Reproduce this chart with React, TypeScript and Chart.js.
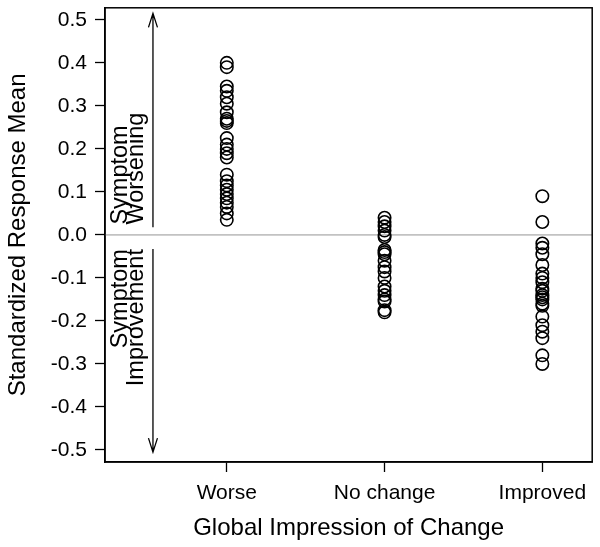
import React, { useEffect, useRef } from "react";
import { Chart, registerables } from "chart.js";

Chart.register(...registerables);

const categories = ["Worse", "No change", "Improved"];
const worseValues = [0.40, 0.39, 0.345, 0.335, 0.32, 0.305, 0.285, 0.27, 0.265, 0.26, 0.225, 0.21, 0.2, 0.19, 0.18, 0.14, 0.125, 0.115, 0.105, 0.095, 0.085, 0.075, 0.065, 0.05, 0.035];
const noChangeValues = [0.04, 0.03, 0.02, 0.01, 0.0, -0.005, -0.035, -0.04, -0.045, -0.06, -0.075, -0.085, -0.1, -0.12, -0.13, -0.14, -0.15, -0.155, -0.175, -0.18];
const improvedValues = [0.09, 0.03, -0.02, -0.03, -0.045, -0.07, -0.09, -0.1, -0.11, -0.125, -0.13, -0.14, -0.145, -0.15, -0.16, -0.165, -0.19, -0.21, -0.225, -0.24, -0.28, -0.3];
const yTicks = [-0.5, -0.4, -0.3, -0.2, -0.1, 0, 0.1, 0.2, 0.3, 0.4, 0.5];
const xTitle = "Global Impression of Change";
const yTitle = "Standardized Response Mean";

// annotation (data units)
const arrowX = 0.532;
const textLine1X = 0.367;
const textLine2X = 0.468;
const upArrow = { from: 0.018, to: 0.515 };
const downArrow = { from: -0.033, to: -0.505 };
const upperText = ["Symptom", "Worsening"];
const lowerText = ["Symptom", "Improvement"];
const upperTextStart = 0.024;
const lowerTextEnd = -0.033;

const FONT = "'Liberation Sans', Arial, sans-serif";

const annotPlugin = {
  id: "annot",
  beforeDatasetsDraw(chart: any) {
    const { ctx, chartArea } = chart;
    const ys = chart.scales.y;
    const y0 = ys.getPixelForValue(0);
    ctx.save();
    ctx.strokeStyle = "#c2c2c2";
    ctx.lineWidth = 1.6;
    ctx.beginPath();
    ctx.moveTo(chartArea.left, y0);
    ctx.lineTo(chartArea.right, y0);
    ctx.stroke();
    ctx.restore();
  },
  afterDatasetsDraw(chart: any) {
    const { ctx } = chart;
    const xs = chart.scales.x;
    const ys = chart.scales.y;
    const ax = xs.getPixelForValue(arrowX);
    ctx.save();
    ctx.strokeStyle = "#000";
    ctx.lineWidth = 1.3;
    const drawArrow = (from: number, to: number) => {
      const yf = ys.getPixelForValue(from);
      const yt = ys.getPixelForValue(to);
      const dir = yt < yf ? 1 : -1;
      ctx.beginPath();
      ctx.moveTo(ax, yf);
      ctx.lineTo(ax, yt);
      ctx.moveTo(ax - 4.5, yt + dir * 14);
      ctx.lineTo(ax, yt);
      ctx.lineTo(ax + 4.5, yt + dir * 14);
      ctx.stroke();
    };
    drawArrow(upArrow.from, upArrow.to);
    drawArrow(downArrow.from, downArrow.to);

    ctx.fillStyle = "#000";
    ctx.font = "23.5px " + FONT;
    ctx.textBaseline = "alphabetic";
    const l1 = xs.getPixelForValue(textLine1X);
    const l2 = xs.getPixelForValue(textLine2X);
    const drawRot = (text: string, x: number, y: number, align: string) => {
      ctx.save();
      ctx.translate(x, y);
      ctx.rotate(-Math.PI / 2);
      ctx.textAlign = align;
      ctx.fillText(text, 0, 0);
      ctx.restore();
    };
    const yu = ys.getPixelForValue(upperTextStart);
    drawRot(upperText[0], l1, yu, "left");
    drawRot(upperText[1], l2, yu, "left");
    const yl = ys.getPixelForValue(lowerTextEnd);
    drawRot(lowerText[0], l1, yl, "right");
    drawRot(lowerText[1], l2, yl, "right");
    ctx.restore();
  },
  afterDraw(chart: any) {
    const { ctx, chartArea } = chart;
    ctx.save();
    ctx.strokeStyle = "#000";
    ctx.lineWidth = 1.5;
    ctx.strokeRect(chartArea.left, chartArea.top, chartArea.right - chartArea.left, chartArea.bottom - chartArea.top);
    ctx.restore();
  },
};

export default function App() {
  const ref = useRef<HTMLCanvasElement | null>(null);
  useEffect(() => {
    if (!ref.current) return;
    Chart.defaults.font.family = FONT;
    Chart.defaults.color = "#000";
    const mk = (vals: number[], x: number) => vals.map((v) => ({ x, y: v }));
    const ds = (vals: number[], x: number) => ({
      data: mk(vals, x),
      pointStyle: "circle",
      pointRadius: 6.2,
      pointBorderWidth: 1.6,
      borderColor: "#000",
      backgroundColor: "rgba(0,0,0,0)",
      showLine: false,
    });
    const chart = new Chart(ref.current, {
      type: "scatter",
      data: {
        datasets: [ds(worseValues, 1), ds(noChangeValues, 2), ds(improvedValues, 3)] as any,
      },
      options: {
        animation: false,
        responsive: false,
        layout: { padding: { top: 5, right: 7, left: 0, bottom: 0 } },
        plugins: { legend: { display: false }, tooltip: { enabled: false } },
        scales: {
          x: {
            type: "linear",
            min: 0.228,
            max: 3.316,
            afterBuildTicks: (s: any) => {
              s.ticks = categories.map((_, i) => ({ value: i + 1 }));
            },
            afterFit: (s: any) => {
              s.height = 85;
              s.paddingLeft = 0;
              s.paddingRight = 0;
            },
            ticks: {
              callback: (v: any) => categories[Math.round(v) - 1] ?? "",
              font: { size: 21 },
              color: "#000",
              padding: 9,
              maxRotation: 0,
            },
            grid: { display: true, drawOnChartArea: false, drawTicks: true, tickLength: 10, tickColor: "#000", tickWidth: 1.3 },
            border: { display: true, color: "#000", width: 1.5 },
            title: { display: true, text: xTitle, font: { size: 24 }, color: "#000", padding: { top: 0, bottom: 4 } },
          },
          y: {
            type: "linear",
            min: -0.528,
            max: 0.528,
            afterBuildTicks: (s: any) => {
              s.ticks = yTicks.map((v) => ({ value: v }));
            },
            afterFit: (s: any) => {
              s.width = 105;
              s.paddingTop = 0;
              s.paddingBottom = 0;
            },
            ticks: {
              callback: (v: any) => Number(v).toFixed(1),
              font: { size: 21 },
              color: "#000",
              padding: 8,
            },
            grid: { display: true, drawOnChartArea: false, drawTicks: true, tickLength: 10, tickColor: "#000", tickWidth: 1.3 },
            border: { display: true, color: "#000", width: 1.5 },
            title: { display: true, text: yTitle, font: { size: 24 }, color: "#000", padding: { top: 4, bottom: 0 } },
          },
        },
      } as any,
      plugins: [annotPlugin],
    });
    return () => chart.destroy();
  }, []);
  return (
    <div style={{ position: "absolute", left: 0, top: 0, width: 600, height: 547, background: "#fff" }}>
      <canvas ref={ref} width={600} height={547} style={{ display: "block" }} />
    </div>
  );
}
